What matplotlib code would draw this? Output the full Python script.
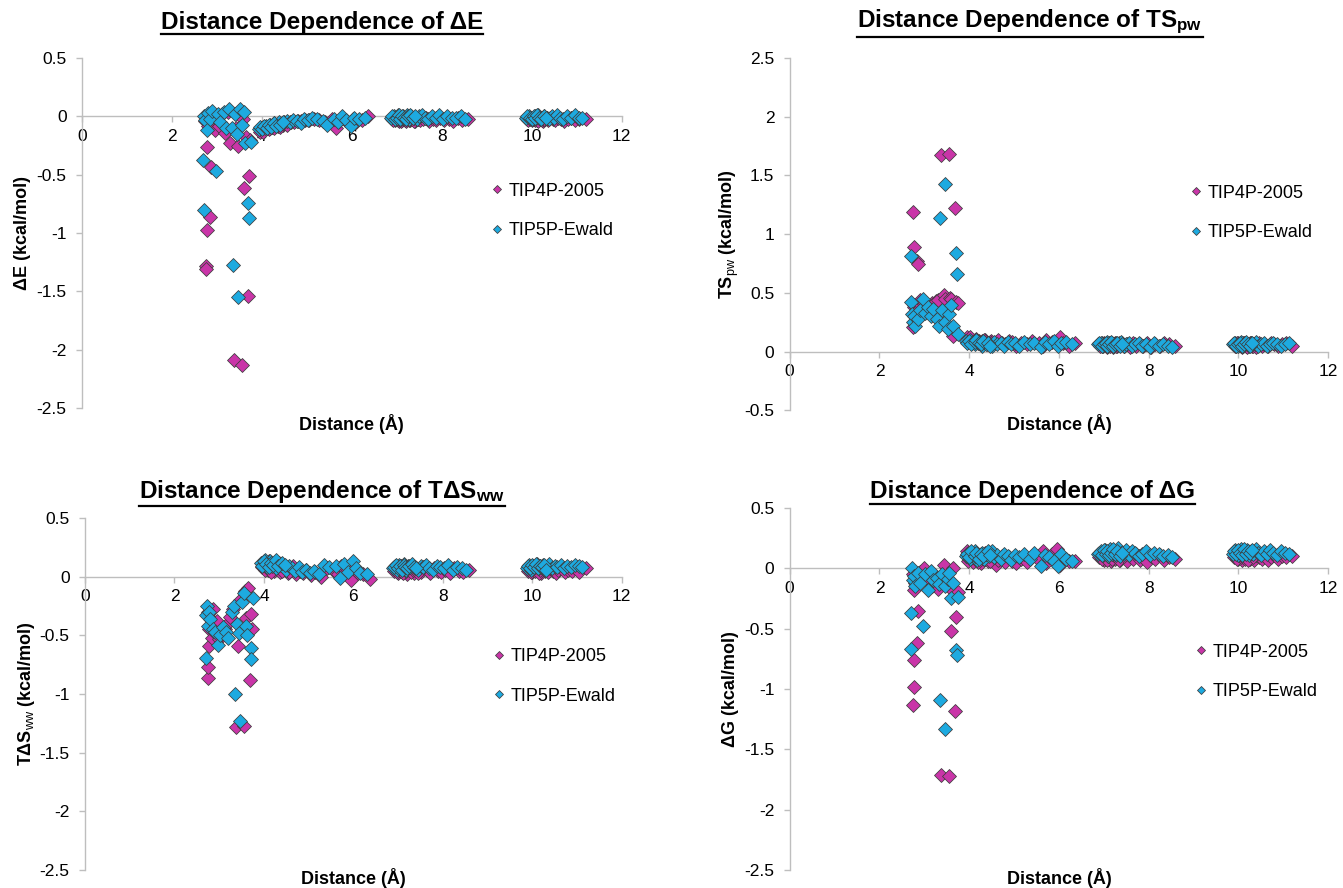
import matplotlib
matplotlib.use('Agg')
import matplotlib.pyplot as plt
from matplotlib.ticker import MultipleLocator, FuncFormatter
from matplotlib.lines import Line2D

plt.rcParams['font.family'] = ['Liberation Sans', 'DejaVu Sans']
plt.rcParams['axes.unicode_minus'] = False
plt.rcParams['mathtext.fontset'] = 'custom'
plt.rcParams['mathtext.rm'] = 'Liberation Sans'
plt.rcParams['mathtext.bf'] = 'Liberation Sans:bold'
plt.rcParams['mathtext.it'] = 'Liberation Sans:italic'

# ---------------- data ----------------
series_names = ['TIP4P-2005', 'TIP5P-Ewald']

# TIP4P-2005 distances (Å): near contact, first band, second band, third band
d4_near = [2.74, 2.75, 2.76, 2.77, 2.78, 2.80, 2.84, 2.87, 2.90, 2.95, 3.00, 3.05, 3.12,
           3.18, 3.25, 3.30, 3.37, 3.43, 3.47, 3.55, 3.58, 3.60, 3.65, 3.69, 3.71, 3.74]
d4_mid = [3.95, 4.00, 4.05, 4.08, 4.12, 4.17, 4.22, 4.26, 4.31, 4.36, 4.42, 4.48, 4.53, 4.59,
          4.65, 4.72, 4.80, 4.88, 4.95, 5.05, 5.15, 5.28, 5.40, 5.55, 5.65, 5.72, 5.85, 5.95,
          6.02, 6.10, 6.22, 6.36,
          3.97, 4.02, 4.10, 4.15, 4.20, 4.28, 4.34, 4.40, 4.46, 4.55]
d4_far1 = [6.90, 6.95, 7.00, 7.04, 7.08, 7.12, 7.16, 7.20, 7.25, 7.30, 7.35, 7.40, 7.46, 7.52,
           7.58, 7.65, 7.72, 7.80, 7.88, 7.96, 8.05, 8.15, 8.25, 8.35, 8.45, 8.58,
           6.92, 6.97, 7.02, 7.06, 7.10, 7.14, 7.18, 7.22, 7.28, 7.33, 7.38, 7.44]
d4_far2 = [9.90, 9.95, 10.00, 10.04, 10.08, 10.12, 10.16, 10.20, 10.25, 10.30, 10.35, 10.40,
           10.46, 10.52, 10.58, 10.65, 10.72, 10.80, 10.88, 10.96, 11.05, 11.20,
           9.92, 9.97, 10.02, 10.06, 10.10, 10.14, 10.18, 10.22, 10.28, 10.33]

dE4_near = [-0.04, -1.28, -1.31, -0.26, -0.97, -0.08, -0.86, -0.43, -0.05, -0.12, -0.03, -0.08, 0.02,
            -0.14, 0.04, -0.23, -2.09, -0.10, -0.25, -2.13, -0.02, -0.61, -0.18, -1.54, -0.51, -0.20]
dE4_mid = [-0.13, -0.12, -0.12, -0.11, -0.10, -0.10, -0.09, -0.09, -0.08, -0.08, -0.07, -0.07,
           -0.06, -0.06, -0.05, -0.05, -0.04, -0.04, -0.03, -0.03, -0.02, -0.03, -0.05, -0.02,
           -0.10, -0.04, -0.03, -0.06, -0.02, -0.05, -0.03, 0.00,
           -0.11, -0.13, -0.09, -0.11, -0.08, -0.10, -0.07, -0.09, -0.06, -0.07]
dE4_far1 = [-0.02, -0.03, -0.01, -0.04, -0.02, -0.03, -0.01, -0.04, -0.02, -0.03, -0.01, -0.04,
            -0.02, -0.03, -0.02, -0.01, -0.04, -0.02, -0.03, -0.01, -0.03, -0.02, -0.04, -0.01,
            -0.03, -0.02,
            -0.03, -0.01, -0.03, -0.02, -0.04, -0.02, -0.03, -0.01, -0.03, -0.02, -0.04, -0.02]
dE4_far2 = [-0.02, -0.01, -0.03, -0.02, -0.01, -0.03, -0.02, -0.01, -0.04, -0.02, -0.03, -0.01,
            -0.02, -0.03, -0.01, -0.02, -0.04, -0.02, -0.01, -0.03, -0.02, -0.02,
            -0.03, -0.02, -0.01, -0.03, -0.02, -0.04, -0.01, -0.03, -0.02, -0.01]

TS4_near = [0.21, 1.19, 0.89, 0.38, 0.40, 0.33, 0.77, 0.745, 0.44, 0.36, 0.42, 0.40, 0.38,
            0.41, 0.43, 0.44, 1.67, 0.48, 0.45, 1.68, 0.46, 0.45, 0.13, 1.22, 0.42, 0.41]
TS4_mid = [0.12, 0.11, 0.10, 0.09, 0.10, 0.08, 0.09, 0.07, 0.08, 0.10, 0.07, 0.09, 0.06, 0.08,
           0.10, 0.07, 0.06, 0.09, 0.08, 0.05, 0.07, 0.06, 0.09, 0.07, 0.05, 0.10, 0.08, 0.06,
           0.12, 0.07, 0.05, 0.07,
           0.09, 0.12, 0.08, 0.11, 0.07, 0.09, 0.10, 0.06, 0.08, 0.07]
TS4_far1 = [0.06, 0.05, 0.07, 0.06, 0.05, 0.07, 0.06, 0.04, 0.07, 0.05, 0.06, 0.07, 0.05, 0.06,
            0.04, 0.07, 0.05, 0.06, 0.05, 0.07, 0.04, 0.06, 0.05, 0.07, 0.06, 0.05,
            0.05, 0.07, 0.06, 0.04, 0.06, 0.05, 0.07, 0.06, 0.05, 0.07, 0.06, 0.05]
TS4_far2 = [0.06, 0.05, 0.07, 0.06, 0.04, 0.07, 0.05, 0.06, 0.07, 0.05, 0.06, 0.04, 0.07, 0.05,
            0.06, 0.05, 0.07, 0.06, 0.05, 0.06, 0.07, 0.05,
            0.05, 0.07, 0.06, 0.05, 0.07, 0.06, 0.04, 0.06, 0.07, 0.05]

TdS4_near = [-0.30, -0.86, -0.77, -0.45, -0.59, -0.35, -0.52, -0.28, -0.48, -0.38, -0.53, -0.50,
             -0.45, -0.40, -0.34, -0.28, -1.28, -0.59, -0.20, -1.27, -0.12, -0.35, -0.10, -0.88,
             -0.32, -0.45]
TdS4_mid = [0.08, 0.12, 0.10, 0.06, 0.13, 0.09, 0.05, 0.11, 0.08, 0.04, 0.10, 0.07, 0.03, 0.06,
            0.09, 0.02, 0.05, 0.03, 0.06, 0.01, 0.04, 0.00, 0.07, 0.06, 0.02, 0.09, 0.05, -0.03,
            0.08, 0.03, 0.02, -0.02,
            0.11, 0.06, 0.12, 0.04, 0.10, 0.07, 0.12, 0.05, 0.09, 0.04]
TdS4_far1 = [0.05, 0.08, 0.03, 0.07, 0.04, 0.09, 0.05, 0.02, 0.08, 0.06, 0.03, 0.07, 0.05, 0.04,
             0.08, 0.06, 0.03, 0.07, 0.05, 0.04, 0.06, 0.03, 0.07, 0.05, 0.04, 0.06,
             0.07, 0.04, 0.06, 0.09, 0.03, 0.07, 0.05, 0.08, 0.04, 0.06, 0.08, 0.03]
TdS4_far2 = [0.05, 0.08, 0.04, 0.07, 0.09, 0.05, 0.06, 0.03, 0.08, 0.06, 0.04, 0.07, 0.05, 0.03,
             0.06, 0.08, 0.04, 0.06, 0.05, 0.07, 0.04, 0.07,
             0.06, 0.04, 0.08, 0.05, 0.07, 0.03, 0.06, 0.09, 0.05, 0.07]

dG4_near = [-0.05, -1.13, -0.98, -0.18, -0.76, -0.12, -0.62, -0.35, -0.03, -0.10, 0.00, -0.08,
            -0.04, -0.15, -0.12, -0.17, -1.71, 0.03, -0.08, -1.72, -0.16, -0.52, 0.00, -1.18,
            -0.40, -0.20]
dG4_mid = [0.14, 0.08, 0.11, 0.05, 0.12, 0.07, 0.10, 0.04, 0.09, 0.13, 0.06, 0.08, 0.11, 0.03,
           0.07, 0.10, 0.05, 0.09, 0.06, 0.04, 0.08, 0.05, 0.10, 0.07, 0.14, 0.04, 0.12, 0.16,
           0.03, 0.09, 0.06, 0.06,
           0.06, 0.12, 0.09, 0.13, 0.05, 0.11, 0.08, 0.12, 0.06, 0.09]
dG4_far1 = [0.09, 0.12, 0.07, 0.11, 0.08, 0.13, 0.06, 0.10, 0.08, 0.12, 0.07, 0.09, 0.11, 0.06,
            0.10, 0.08, 0.12, 0.07, 0.09, 0.05, 0.10, 0.08, 0.11, 0.07, 0.09, 0.08,
            0.11, 0.08, 0.13, 0.07, 0.10, 0.12, 0.08, 0.11, 0.09, 0.07, 0.12, 0.10]
dG4_far2 = [0.09, 0.11, 0.08, 0.12, 0.07, 0.10, 0.09, 0.12, 0.08, 0.10, 0.07, 0.11, 0.09, 0.08,
            0.10, 0.07, 0.09, 0.11, 0.08, 0.10, 0.09, 0.10,
            0.10, 0.08, 0.11, 0.09, 0.12, 0.08, 0.10, 0.07, 0.11, 0.09]

# TIP5P-Ewald distances (Å)
d5_near = [2.70, 2.71, 2.72, 2.74, 2.78, 2.80, 2.85, 2.90, 2.98, 3.02, 3.08, 3.15, 3.20, 3.28,
           3.33, 3.36, 3.40, 3.45, 3.47, 3.52, 3.55, 3.60, 3.63, 3.70, 3.72, 3.76]
d5_mid = [3.93, 3.98, 4.02, 4.06, 4.10, 4.14, 4.18, 4.23, 4.28, 4.33, 4.38, 4.44, 4.50, 4.56,
          4.62, 4.70, 4.78, 4.86, 4.94, 5.02, 5.12, 5.22, 5.35, 5.45, 5.60, 5.70, 5.78, 5.88,
          5.98, 6.05, 6.15, 6.30,
          3.96, 4.00, 4.04, 4.12, 4.16, 4.21, 4.26, 4.31, 4.41, 4.47]
d5_far1 = [6.88, 6.93, 6.98, 7.02, 7.06, 7.10, 7.14, 7.18, 7.22, 7.27, 7.32, 7.38, 7.44, 7.50,
           7.56, 7.62, 7.70, 7.78, 7.86, 7.94, 8.02, 8.12, 8.22, 8.32, 8.42, 8.52,
           6.90, 6.95, 7.00, 7.04, 7.08, 7.12, 7.16, 7.20, 7.25, 7.30, 7.35, 7.41]
d5_far2 = [9.88, 9.93, 9.98, 10.02, 10.06, 10.10, 10.14, 10.18, 10.23, 10.28, 10.33, 10.38,
           10.44, 10.50, 10.56, 10.63, 10.70, 10.78, 10.86, 10.95, 11.04, 11.12,
           9.90, 9.95, 10.00, 10.04, 10.08, 10.12, 10.16, 10.21, 10.26, 10.31]

dE5_near = [-0.37, -0.80, 0.00, -0.03, -0.12, 0.03, -0.02, 0.05, -0.47, 0.02, -0.05, 0.04, -0.10,
            0.06, -0.10, -1.27, 0.02, -0.15, -1.55, 0.06, -0.07, 0.04, -0.23, -0.74, -0.87, -0.22]
dE5_mid = [-0.11, -0.10, -0.09, -0.10, -0.08, -0.09, -0.07, -0.08, -0.06, -0.07, -0.05, -0.06,
           -0.05, -0.04, -0.05, -0.03, -0.04, -0.06, -0.02, -0.03, -0.01, -0.02, -0.04, -0.07,
           -0.02, -0.05, 0.00, -0.03, -0.08, -0.01, -0.02, -0.01,
           -0.09, -0.11, -0.08, -0.10, -0.07, -0.09, -0.06, -0.08, -0.07, -0.05]
dE5_far1 = [-0.01, 0.00, -0.02, 0.01, -0.01, -0.02, 0.00, -0.01, 0.01, -0.02, 0.00, -0.01,
            -0.02, 0.00, 0.01, -0.01, -0.02, 0.00, -0.01, 0.01, -0.02, 0.00, -0.01, -0.01, 0.00,
            -0.02,
            0.00, -0.02, -0.01, 0.01, -0.02, 0.00, -0.01, -0.02, 0.00, 0.01, -0.01, 0.00]
dE5_far2 = [-0.01, 0.00, -0.01, -0.02, 0.00, -0.01, 0.01, -0.02, -0.01, 0.00, -0.01, -0.02,
            0.00, -0.01, 0.01, -0.01, -0.02, 0.00, -0.01, 0.01, -0.01, -0.01,
            0.00, -0.01, -0.02, 0.00, -0.01, 0.01, -0.01, -0.02, 0.00, -0.01]

TS5_near = [0.81, 0.42, 0.32, 0.25, 0.30, 0.22, 0.28, 0.35, 0.45, 0.33, 0.38, 0.30, 0.36, 0.28,
            0.22, 1.14, 0.35, 0.25, 1.43, 0.19, 0.32, 0.40, 0.22, 0.84, 0.66, 0.15]
TS5_mid = [0.09, 0.08, 0.10, 0.07, 0.08, 0.06, 0.09, 0.07, 0.05, 0.08, 0.06, 0.07, 0.05, 0.08,
           0.06, 0.07, 0.05, 0.08, 0.06, 0.07, 0.05, 0.08, 0.06, 0.07, 0.04, 0.08, 0.06, 0.09,
           0.05, 0.07, 0.08, 0.06,
           0.07, 0.09, 0.06, 0.08, 0.10, 0.07, 0.06, 0.09, 0.07, 0.05]
TS5_far1 = [0.06, 0.07, 0.05, 0.06, 0.08, 0.05, 0.07, 0.06, 0.05, 0.07, 0.06, 0.08, 0.05, 0.06,
            0.07, 0.05, 0.06, 0.07, 0.05, 0.06, 0.04, 0.07, 0.05, 0.06, 0.05, 0.04,
            0.07, 0.05, 0.06, 0.07, 0.05, 0.06, 0.08, 0.05, 0.06, 0.07, 0.05, 0.06]
TS5_far2 = [0.06, 0.07, 0.05, 0.06, 0.08, 0.05, 0.07, 0.06, 0.05, 0.07, 0.06, 0.08, 0.05, 0.06,
            0.07, 0.05, 0.06, 0.07, 0.06, 0.05, 0.06, 0.07,
            0.07, 0.05, 0.06, 0.07, 0.05, 0.06, 0.08, 0.06, 0.05, 0.07]

TdS5_near = [-0.69, -0.33, -0.25, -0.42, -0.30, -0.36, -0.45, -0.47, -0.58, -0.50, -0.43, -0.47,
             -0.52, -0.30, -0.25, -1.00, -0.40, -0.48, -1.23, -0.22, -0.14, -0.42, -0.50, -0.61,
             -0.70, -0.18]
TdS5_mid = [0.12, 0.10, 0.14, 0.08, 0.11, 0.13, 0.09, 0.12, 0.07, 0.10, 0.11, 0.08, 0.06, 0.09,
            0.07, 0.05, 0.08, 0.04, 0.06, 0.03, 0.05, 0.02, 0.10, 0.08, 0.09, -0.01, 0.11, 0.04,
            0.13, 0.07, 0.03, 0.02,
            0.09, 0.13, 0.11, 0.08, 0.12, 0.10, 0.14, 0.09, 0.12, 0.10]
TdS5_far1 = [0.07, 0.09, 0.06, 0.10, 0.08, 0.07, 0.11, 0.06, 0.09, 0.08, 0.10, 0.07, 0.06, 0.09,
             0.08, 0.10, 0.07, 0.06, 0.09, 0.08, 0.07, 0.10, 0.06, 0.08, 0.07, 0.06,
             0.08, 0.10, 0.07, 0.09, 0.06, 0.10, 0.08, 0.07, 0.09, 0.11, 0.08, 0.07]
TdS5_far2 = [0.07, 0.10, 0.06, 0.09, 0.08, 0.11, 0.07, 0.09, 0.10, 0.06, 0.08, 0.11, 0.07, 0.09,
             0.08, 0.10, 0.07, 0.09, 0.08, 0.10, 0.09, 0.08,
             0.09, 0.07, 0.10, 0.08, 0.11, 0.07, 0.09, 0.08, 0.10, 0.06]

dG5_near = [-0.37, -0.67, 0.00, -0.10, -0.06, -0.15, -0.04, -0.12, -0.48, -0.05, -0.18, -0.02,
            -0.10, -0.08, -0.13, -1.09, -0.05, -0.15, -1.33, -0.09, -0.04, -0.25, -0.12, -0.68,
            -0.72, -0.24]
dG5_mid = [0.10, 0.13, 0.08, 0.12, 0.09, 0.14, 0.07, 0.11, 0.13, 0.08, 0.12, 0.10, 0.14, 0.09,
           0.11, 0.08, 0.12, 0.10, 0.07, 0.11, 0.09, 0.12, 0.08, 0.13, 0.02, 0.11, 0.09, 0.06,
           0.02, 0.12, 0.08, 0.06,
           0.12, 0.09, 0.14, 0.10, 0.13, 0.08, 0.12, 0.10, 0.14, 0.11]
dG5_far1 = [0.12, 0.14, 0.11, 0.15, 0.13, 0.10, 0.16, 0.12, 0.14, 0.11, 0.17, 0.13, 0.12, 0.15,
            0.11, 0.14, 0.13, 0.10, 0.12, 0.14, 0.11, 0.13, 0.12, 0.10, 0.11, 0.09,
            0.13, 0.11, 0.15, 0.12, 0.14, 0.11, 0.13, 0.16, 0.12, 0.14, 0.10, 0.13]
dG5_far2 = [0.12, 0.15, 0.11, 0.14, 0.16, 0.12, 0.13, 0.15, 0.11, 0.14, 0.12, 0.16, 0.13, 0.11,
            0.14, 0.12, 0.15, 0.13, 0.11, 0.14, 0.13, 0.12,
            0.14, 0.12, 0.15, 0.13, 0.11, 0.16, 0.12, 0.14, 0.13, 0.15]

dist_tip4p = d4_near + d4_mid + d4_far1 + d4_far2
dist_tip5p = d5_near + d5_mid + d5_far1 + d5_far2
dE_tip4p = dE4_near + dE4_mid + dE4_far1 + dE4_far2
dE_tip5p = dE5_near + dE5_mid + dE5_far1 + dE5_far2
TSpw_tip4p = TS4_near + TS4_mid + TS4_far1 + TS4_far2
TSpw_tip5p = TS5_near + TS5_mid + TS5_far1 + TS5_far2
TdSww_tip4p = TdS4_near + TdS4_mid + TdS4_far1 + TdS4_far2
TdSww_tip5p = TdS5_near + TdS5_mid + TdS5_far1 + TdS5_far2
dG_tip4p = dG4_near + dG4_mid + dG4_far1 + dG4_far2
dG_tip5p = dG5_near + dG5_mid + dG5_far1 + dG5_far2

x_ticks = [0, 2, 4, 6, 8, 10, 12]

# ---------------- figure ----------------
fig = plt.figure(figsize=(13.43, 8.88), dpi=100)

colors = ['#C935A8', '#1DAAE0']
edge = '#3c3c3c'
axis_col = '#BEBEBE'

panels = [
    dict(rect=[0.061, 0.5405, 0.402, 0.394], ylim=(-2.5, 0.5),
         title='Distance Dependence of ΔE', title_xy=(0.2398, 0.975),
         ylabel='ΔE (kcal/mol)', ys=(dE_tip4p, dE_tip5p),
         leg=(0.7685, 0.563), xlab_y=-0.046, ylab_x=-0.095),
    dict(rect=[0.588, 0.538, 0.401, 0.3967], ylim=(-0.5, 2.5),
         title=r'Distance Dependence of TS$_{\mathbf{pw}}$', title_xy=(0.767, 0.975),
         ylabel=r'TS$_{\mathrm{pw}}$ (kcal/mol)', ys=(TSpw_tip4p, TSpw_tip5p),
         leg=(0.7546, 0.5605), xlab_y=-0.04, ylab_x=-0.09),
    dict(rect=[0.0633, 0.0203, 0.3997, 0.3964], ylim=(-2.5, 0.5),
         title=r'Distance Dependence of TΔS$_{\mathbf{ww}}$', title_xy=(0.2398, 0.446),
         ylabel=r'TΔS$_{\mathrm{ww}}$ (kcal/mol)', ys=(TdSww_tip4p, TdSww_tip5p),
         leg=(0.771, 0.55), xlab_y=-0.023, ylab_x=-0.09),
    dict(rect=[0.588, 0.0203, 0.401, 0.4077], ylim=(-2.5, 0.5),
         title='Distance Dependence of ΔG', title_xy=(0.7685, 0.446),
         ylabel='ΔG (kcal/mol)', ys=(dG_tip4p, dG_tip5p),
         leg=(0.764, 0.547), xlab_y=-0.022, ylab_x=-0.094),
]

fmt = FuncFormatter(lambda v, p: ('%g' % round(v, 3)))
titles = []
for P in panels:
    ax = fig.add_axes(P['rect'])
    ax.set_xlim(0, 12)
    ax.set_ylim(*P['ylim'])
    for name, xs, ys, c in zip(series_names, (dist_tip4p, dist_tip5p), P['ys'], colors):
        ax.plot(xs, ys, linestyle='none', marker='D', ms=6.8, mfc=c, mec=edge, mew=0.55,
                label=name, zorder=3, clip_on=False)
    for s in ('top', 'right'):
        ax.spines[s].set_visible(False)
    ax.spines['bottom'].set_position(('data', 0))
    ax.spines['bottom'].set_color(axis_col)
    ax.spines['left'].set_color(axis_col)
    ax.spines['bottom'].set_linewidth(1.0)
    ax.spines['left'].set_linewidth(1.0)
    ax.set_xticks(x_ticks)
    ax.yaxis.set_major_locator(MultipleLocator(0.5))
    ax.yaxis.set_major_formatter(fmt)
    ax.xaxis.set_major_formatter(fmt)
    ax.tick_params(axis='both', direction='out', length=4, width=1, color=axis_col,
                   labelsize=12.5, labelcolor='black')
    ax.tick_params(axis='x', pad=5)
    ax.tick_params(axis='y', pad=7)
    ax.set_ylabel(P['ylabel'], fontsize=13, fontweight='bold')
    ax.yaxis.set_label_coords(P['ylab_x'], 0.5)
    ax.text(0.5, P['xlab_y'], 'Distance (Å)', transform=ax.transAxes, ha='center',
            va='center', fontsize=13, fontweight='bold')
    fs = 13
    hl = 0.8
    ax.legend(loc='center left',
              bbox_to_anchor=(P['leg'][0] - hl * 0.5 * fs / 72 * 100 / (P['rect'][2] * 1343), P['leg'][1]),
              frameon=False, numpoints=1, markerscale=0.6, fontsize=fs,
              handlelength=hl, handletextpad=0.25, labelspacing=1.25,
              borderpad=0, borderaxespad=0)
    t = fig.text(P['title_xy'][0], P['title_xy'][1], P['title'], ha='center', va='center',
                 fontsize=17.5, fontweight='bold')
    titles.append(t)

fig.canvas.draw()
r = fig.canvas.get_renderer()
inv = fig.transFigure.inverted()
for t in titles:
    bb = t.get_window_extent(r)
    (x0, y0), (x1, y1) = inv.transform([(bb.x0, bb.y0 - 0.5), (bb.x1, bb.y1)])
    fig.add_artist(Line2D([x0, x1], [y0, y0], transform=fig.transFigure, color='black', lw=1.6))

fig.savefig('out.png', dpi=100)
